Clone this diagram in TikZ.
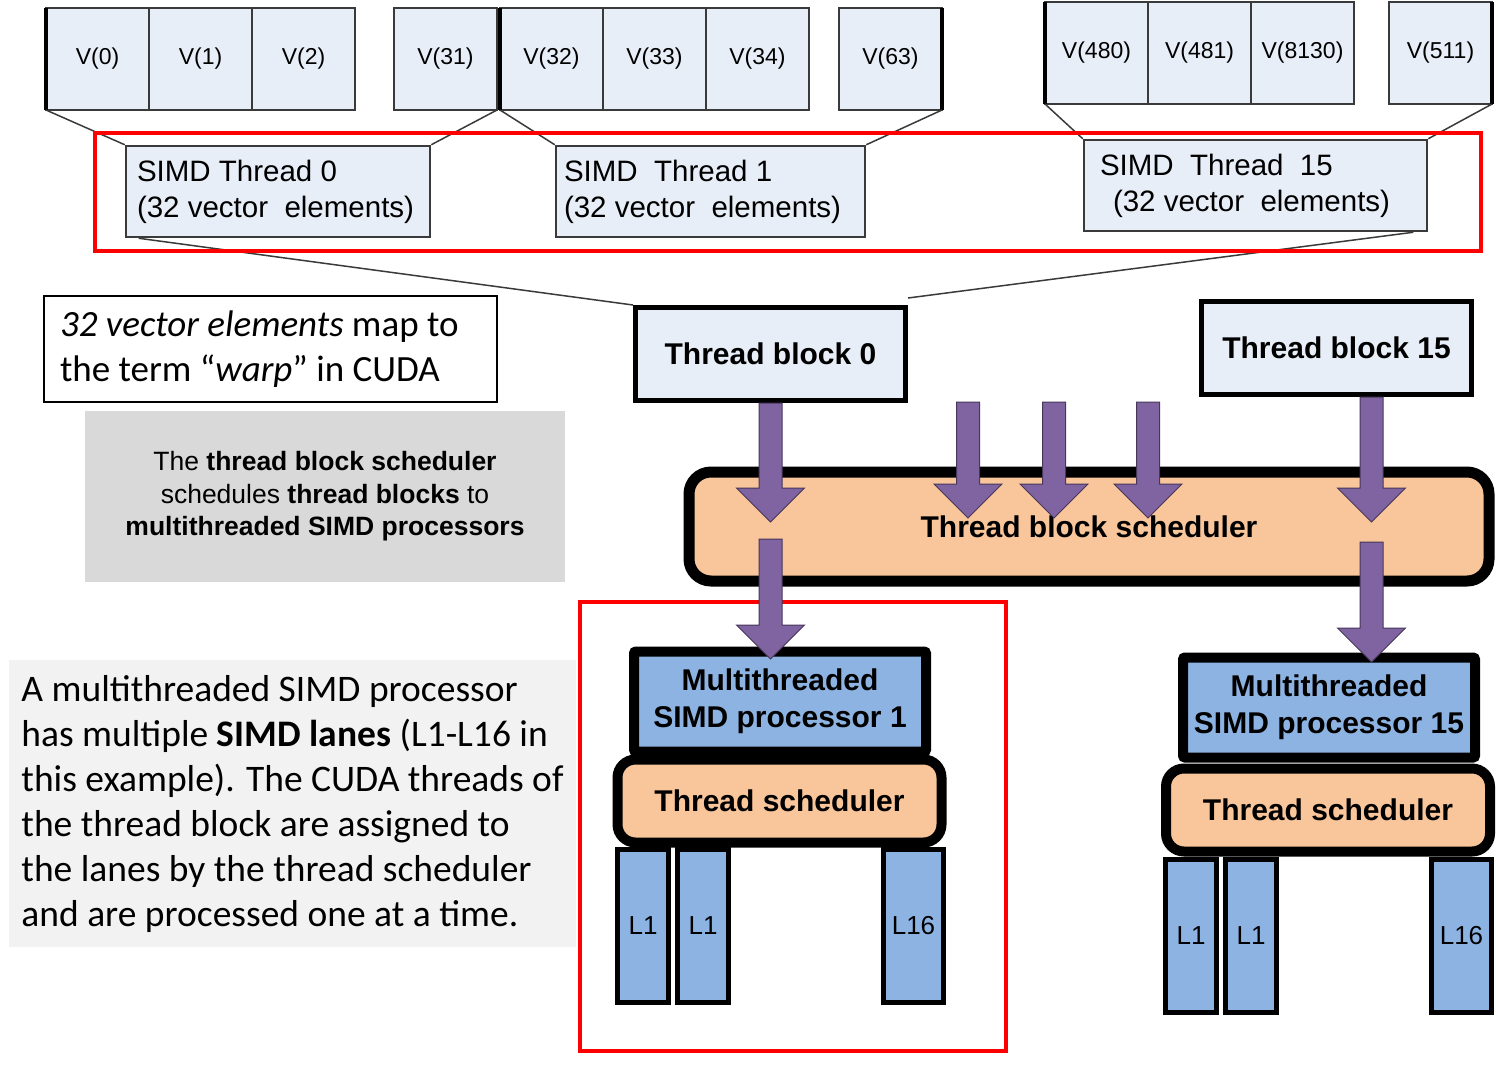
\documentclass[tikz,border=0pt]{standalone}
\usepackage{fontspec}
\setmainfont{Liberation Sans}
\newfontfamily\calibri{Carlito}
\usepackage{tikz}
\usetikzlibrary{calc}
\usetikzlibrary{positioning}

\definecolor{vfill}{HTML}{E8EEF8}
\definecolor{linegray}{HTML}{3A3A3A}
\definecolor{peach}{HTML}{F9C59A}
\definecolor{procblue}{HTML}{8DB3E2}
\definecolor{arrowpurple}{HTML}{8064A2}
\definecolor{notegray}{HTML}{D9D9D9}
\definecolor{notelight}{HTML}{F2F2F2}

\newcommand{\setfs}[2]{\fontsize{#1}{#2}\selectfont}
% block arrow pointing down, from #1 to the tip #2
\newcommand{\fatarrow}[2]{%
  \path[arrowfill] let \p1=(#1), \p2=(#2) in
    (\x1-11.5pt,\y1) -- (\x1-11.5pt,\y2+34pt) -- (\x1-34pt,\y2+34pt) -- (\x1,\y2)
    -- (\x1+34pt,\y2+34pt) -- (\x1+11.5pt,\y2+34pt) -- (\x1+11.5pt,\y1) -- cycle;}

\begin{document}
\begin{tikzpicture}[x=1pt,y=-1pt,
  vcell/.style={draw=linegray,line width=1.5pt,fill=vfill,minimum width=103pt,minimum height=102pt,
    inner sep=0pt,outer sep=0pt,font=\setfs{23}{28}},
  simdbox/.style={draw=linegray,line width=2.5pt,fill=vfill,minimum height=91pt,align=flush left,
    font=\setfs{29.5}{36}},
  tblock/.style={draw=black,line width=5pt,fill=vfill,minimum width=270pt,minimum height=93pt,
    font=\bfseries\setfs{30}{36}},
  sched/.style={draw=black,line width=11pt,fill=peach,rounded corners=22pt,minimum width=800pt,
    minimum height=109pt,font=\bfseries\setfs{30}{36}},
  proc/.style={draw=black,line width=10pt,fill=procblue,rounded corners=2pt,minimum width=292pt,
    minimum height=100pt,align=center,font=\bfseries\setfs{30}{37}},
  tsched/.style={draw=black,line width=10pt,fill=peach,rounded corners=18pt,minimum width=324pt,
    minimum height=83pt,font=\bfseries\setfs{30}{36}},
  lane/.style={draw=black,line width=5pt,fill=procblue,minimum width=51pt,minimum height=153pt,
    inner sep=0pt,outer sep=0pt,font=\setfs{26}{30}},
  thin/.style={draw=linegray,line width=1.5pt},
  redframe/.style={draw=red,line width=4pt},
  arrowfill/.style={fill=arrowpurple,draw=arrowpurple!55!black,line width=1pt}]

  \useasboundingbox (0,0) rectangle (1498,1080);

  % vector elements
  \node[vcell] (v0) at (97.5,59) {V(0)};
  \node[vcell,right=0pt of v0] (v1) {V(1)};
  \node[vcell,right=0pt of v1] (v2) {V(2)};
  \node[vcell,right=39pt of v2] (v31) {V(31)};
  \node[vcell,right=3pt of v31] (v32) {V(32)};
  \node[vcell,right=0pt of v32] (v33) {V(33)};
  \node[vcell,right=0pt of v33] (v34) {V(34)};
  \node[vcell,right=30pt of v34] (v63) {V(63)};
  \node[vcell] (v480) at (1096.5,53) {V(480)};
  \node[vcell,right=0pt of v480] (v481) {V(481)};
  \node[vcell,right=0pt of v481] (v8130) {V(8130)};
  \node[vcell,right=35pt of v8130] (v511) {V(511)};

  \path [draw,line width=3.5pt]
    (v0.north west)   -- (v0.south west)
    (v32.north west)  -- (v32.south west)
    (v480.north west) -- (v480.south west)
    (v63.north east)  -- (v63.south east)
    (v511.north east) -- (v511.south east);

  % SIMD threads
  \node[simdbox,text width=282pt,inner xsep=11pt] (simd0) at (278,191.5)
    {SIMD Thread 0\\(32 vector\ \ elements)};
  \node[simdbox,text width=293pt,inner xsep=8pt] (simd1) at (710.5,191.5)
    {SIMD\ \ Thread 1\\(32 vector\ \ elements)};
  \node[simdbox,text width=311pt,inner xsep=16pt] (simd15) at (1255.5,185.5)
    {SIMD\ \ Thread\ \ 15\\\hspace*{13pt}(32 vector\ \ elements)};

  \path [thin]
    (v0.south west)   edge (simd0.north west)
    (v31.south east)  edge (simd0.north east)
    (v32.south west)  edge (simd1.north west)
    (v63.south east)  edge (simd1.north east)
    (v480.south west) edge (simd15.north west)
    (v511.south east) edge (simd15.north east);

  % thread blocks
  \node[tblock] (tb0) at (770.5,354) {Thread block 0};
  \node[tblock] (tb15) at (1336.5,348) {Thread block 15};

  \path [thin]
    ([xshift=14pt]simd0.south west)   edge (tb0.north west)
    ([xshift=-15pt]simd15.south east) edge ([yshift=7pt]tb0.north east);

  \node[sched] (sched) at (1089,526.5) {Thread block scheduler};

  % SIMD processors
  \node[proc] (proc1) at (780,701.5) {Multithreaded\\SIMD processor 1};
  \node[tsched] (tsched1) at (779.5,801) {Thread scheduler};
  \node[lane] (p1l1) at (643,926) {L1};
  \node[lane,right=9pt of p1l1] (p1l2) {L1};
  \node[lane,minimum width=60pt] (p1l16) at (913.5,926) {L16};

  \node[proc] (proc15) at (1329,707.5) {Multithreaded\\SIMD processor 15};
  \node[tsched] (tsched15) at (1328,810) {Thread scheduler};
  \node[lane] (p15l1) at (1191,936) {L1};
  \node[lane,right=9pt of p15l1] (p15l2) {L1};
  \node[lane,minimum width=60pt] (p15l16) at (1461.5,936) {L16};

  % notes
  \node[draw=black,line width=2pt,fill=white,text width=421pt,inner xsep=16pt,minimum height=106pt,
    align=flush left,font=\calibri\setfs{37}{45}] (warp) at (270.5,349)
    {\textit{32 vector elements} map to\\the term “\textit{warp}” in CUDA};
  \node[fill=notegray,minimum width=480pt,minimum height=171pt,align=center,
    font=\setfs{26.5}{32.5}] (snote) at (325,496.5)
    {The \textbf{thread block scheduler}\\schedules \textbf{thread blocks} to\\\textbf{multithreaded SIMD processors}};
  \node[fill=notelight,minimum width=567pt,minimum height=287pt,align=left,
    font=\calibri\setfs{37.5}{45}] (lnote) at (292.5,803.5)
    {A multithreaded SIMD processor\\has multiple \textbf{SIMD lanes} (L1-L16 in\\this example). The CUDA threads of\\the thread block are assigned to\\the lanes by the thread scheduler\\and are processed one at a time.};

  \draw[redframe] (95,133) rectangle (1481,251);
  \draw[redframe] (580,602) rectangle (1006,1051);

  % block arrows
  \coordinate (tb0in) at (770.5,522);
  \coordinate (tb0out) at (770.5,539);
  \coordinate (proc1in) at (770.5,659);
  \coordinate (tb15in) at (1371.5,522);
  \coordinate (tb15out) at (1371.5,542);
  \coordinate (proc15in) at (1371.5,662);
  \fatarrow{tb0in |- tb0.south}{tb0in}
  \fatarrow{tb0out}{proc1in}
  \fatarrow{tb15in |- tb15.south}{tb15in}
  \fatarrow{tb15out}{proc15in}
  \foreach \mx in {968,1054,1148} {
    \coordinate (mid\mx) at (\mx,402);
    \coordinate (midtip\mx) at (\mx,518);
    \fatarrow{mid\mx}{midtip\mx}
  }

\end{tikzpicture}
\end{document}
